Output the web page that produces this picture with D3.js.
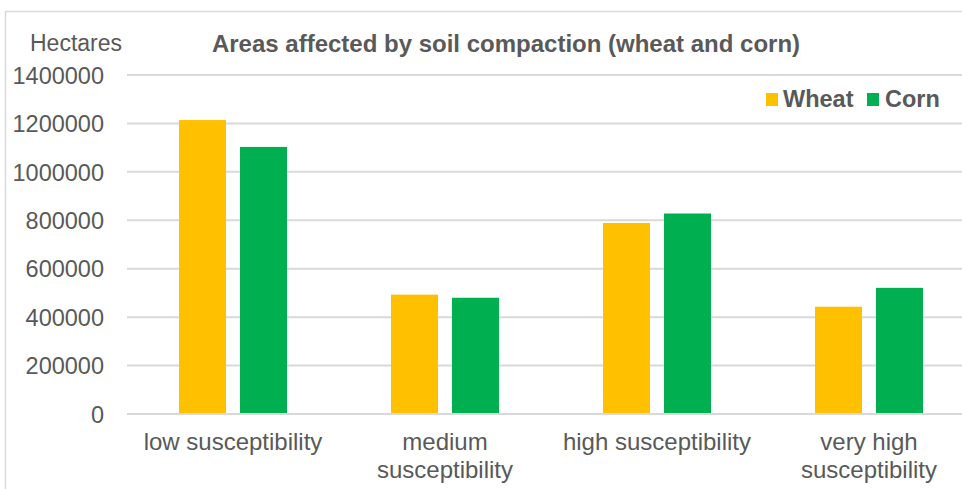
<!DOCTYPE html>
<html>
<head>
<meta charset="utf-8">
<script src="https://cdn.jsdelivr.net/npm/d3@7"></script>
<style>
  html, body { margin: 0; padding: 0; background: #fff; }
  svg { display: block; font-family: Arial, "Liberation Sans", sans-serif; }
</style>
</head>
<body>
<svg id="chart" width="962" height="489"></svg>
<script>
// Soil compaction susceptibility classes and affected area (hectares)
const categories = [
  ["low susceptibility"],
  ["medium", "susceptibility"],
  ["high susceptibility"],
  ["very high", "susceptibility"]
];
const categoryKeys = ["low", "medium", "high", "very high"];
const seriesNames = ["Wheat", "Corn"];
const wheat = [1214000, 493000, 789000, 443000];
const corn = [1103000, 480000, 828000, 521000];
const yTicks = [0, 200000, 400000, 600000, 800000, 1000000, 1200000, 1400000];

const colors = { Wheat: "#FFC000", Corn: "#00B050" };
const textColor = "#595959";
const gridColor = "#D9D9D9";

const svg = d3.select("#chart");

// chart frame
svg.append("rect")
  .attr("x", 5.5).attr("y", 11.5)
  .attr("width", 980).attr("height", 500)
  .attr("fill", "none")
  .attr("stroke", gridColor)
  .attr("stroke-width", 1.5);

const plot = { left: 127, right: 975, top: 75, bottom: 414 };

const y = d3.scaleLinear().domain([0, 1400000]).range([plot.bottom, plot.top]);
const x0 = d3.scaleBand().domain(categoryKeys).range([plot.left, plot.right]).padding(0);
const x1 = d3.scaleBand().domain(seriesNames)
  .range([0, x0.bandwidth()])
  .paddingInner(0.2295).paddingOuter(0.8525);

// gridlines
svg.append("g")
  .selectAll("line")
  .data(yTicks)
  .join("line")
  .attr("x1", plot.left).attr("x2", plot.right)
  .attr("y1", d => y(d)).attr("y2", d => y(d))
  .attr("stroke", gridColor)
  .attr("stroke-width", 2);

// y-axis tick labels
const yAxis = d3.axisLeft(y).tickValues(yTicks).tickFormat(d3.format("d")).tickSize(0).tickPadding(0);
const yg = svg.append("g").attr("transform", "translate(104,0)").call(yAxis);
yg.select(".domain").remove();
yg.selectAll("text")
  .attr("fill", textColor)
  .attr("font-size", 23.5)
  .attr("font-family", "Arial, 'Liberation Sans', sans-serif")
  .attr("dy", "0.35em");

// bars
const data = categoryKeys.map((k, i) => ({ key: k, values: [
  { name: "Wheat", value: wheat[i] },
  { name: "Corn", value: corn[i] }
]}));

svg.append("g")
  .selectAll("g")
  .data(data)
  .join("g")
  .attr("transform", d => `translate(${x0(d.key)},0)`)
  .selectAll("rect")
  .data(d => d.values)
  .join("rect")
  .attr("x", d => x1(d.name))
  .attr("width", x1.bandwidth())
  .attr("y", d => y(d.value))
  .attr("height", d => y(0) - y(d.value))
  .attr("fill", d => colors[d.name]);

// re-draw the baseline above the bars
svg.append("line")
  .attr("x1", plot.left).attr("x2", plot.right)
  .attr("y1", y(0)).attr("y2", y(0))
  .attr("stroke", gridColor).attr("stroke-width", 2);

// category labels
const xl = svg.append("g");
categoryKeys.forEach((k, i) => {
  const t = xl.append("text")
    .attr("x", x0(k) + x0.bandwidth() / 2)
    .attr("y", 450)
    .attr("text-anchor", "middle")
    .attr("fill", textColor)
    .attr("font-size", 24);
  categories[i].forEach((line, j) => {
    t.append("tspan")
      .attr("x", x0(k) + x0.bandwidth() / 2)
      .attr("dy", j === 0 ? 0 : 28)
      .text(line);
  });
});

// axis title
svg.append("text")
  .attr("x", 30).attr("y", 51)
  .attr("fill", textColor)
  .attr("font-size", 23)
  .text("Hectares");

// chart title
svg.append("text")
  .attr("x", 506).attr("y", 52)
  .attr("text-anchor", "middle")
  .attr("fill", textColor)
  .attr("font-size", 24)
  .attr("font-weight", "bold")
  .text("Areas affected by soil compaction (wheat and corn)");

// legend
const legendItems = [
  { name: "Wheat", sx: 766, tx: 783 },
  { name: "Corn", sx: 867, tx: 885 }
];
const lg = svg.append("g");
legendItems.forEach(d => {
  lg.append("rect")
    .attr("x", d.sx).attr("y", 93)
    .attr("width", 12).attr("height", 13)
    .attr("fill", colors[d.name]);
  lg.append("text")
    .attr("x", d.tx).attr("y", 107)
    .attr("fill", textColor)
    .attr("font-size", 23.5)
    .attr("font-weight", "bold")
    .text(d.name);
});
</script>
</body>
</html>
